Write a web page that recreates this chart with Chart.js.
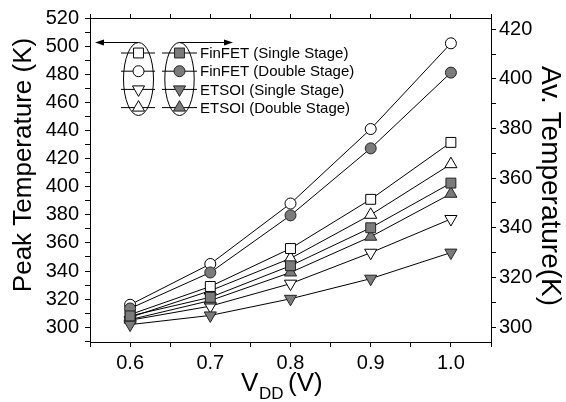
<!DOCTYPE html>
<html>
<head>
<meta charset="utf-8">
<script src="https://cdn.jsdelivr.net/npm/chart.js@4.4.0/dist/chart.umd.min.js"></script>
<style>
body { margin: 0; background: #fff; }
</style>
</head>
<body>
<canvas id="chart" width="566" height="402"></canvas>
<script>
"use strict";

const FONT = "'Liberation Sans', Arial, sans-serif";

const vdd = [0.6, 0.7, 0.8, 0.9, 1.0];

// peak temperature (K), left axis
const finfetSinglePeak = [309, 329, 356, 391, 431.5];
const finfetDoublePeak = [316, 345, 388, 441, 502];
const etsoiSinglePeak = [305, 315, 331, 353, 377];
const etsoiDoublePeak = [307, 326, 349, 380, 416];

// average temperature (K), right axis
const finfetSingleAvg = [304.5, 312, 324.7, 340, 358];
const finfetDoubleAvg = [307.5, 322, 345, 372, 402.5];
const etsoiSingleAvg = [301, 304.7, 311.4, 319.5, 330];
const etsoiDoubleAvg = [303, 310.7, 322, 336.4, 353.7];

const xTicks = [0.55, 0.6, 0.65, 0.7, 0.75, 0.8, 0.85, 0.9, 0.95, 1.0, 1.05];
const peakTicks = [290, 300, 310, 320, 330, 340, 350, 360, 370, 380, 390, 400,
    410, 420, 430, 440, 450, 460, 470, 480, 490, 500, 510, 520];
const avTicks = [300, 310, 320, 330, 340, 350, 360, 370, 380, 390, 400, 410, 420];

const legendLabels = [
    "FinFET (Single Stage)",
    "FinFET (Double Stage)",
    "ETSOI (Single Stage)",
    "ETSOI (Double Stage)"
];

const markerStyles = [
    {pointStyle: "rect", radius: 7, rotation: 0},
    {pointStyle: "circle", radius: 5.5, rotation: 0},
    {pointStyle: "triangle", radius: 7, rotation: 180},
    {pointStyle: "triangle", radius: 7, rotation: 0}
];

const GRAY = "#7b7b7b";

function points(values) {
    return vdd.map((v, i) => ({x: v, y: values[i]}));
}

function series(values, marker, filled) {
    return {
        data: points(values),
        yAxisID: filled ? "y2" : "y",
        borderColor: "#000",
        borderWidth: 1,
        pointStyle: marker.pointStyle,
        pointRadius: marker.radius,
        pointRotation: marker.rotation,
        pointBackgroundColor: filled ? GRAY : "#fff",
        pointBorderColor: filled ? "#222" : "#000",
        pointBorderWidth: 1,
        tension: 0,
        fill: false
    };
}

function fixTicks(list) {
    return scale => {
        scale.ticks = list.map(v => ({value: v}));
    };
}

const annotations = {
    id: "annotations",
    afterDraw(chart) {
        const ctx = chart.ctx;
        ctx.save();
        ctx.fillStyle = "#000";
        ctx.strokeStyle = "#000";
        ctx.lineWidth = 1;

        // axis titles
        ctx.font = "26px " + FONT;
        ctx.textAlign = "center";
        ctx.textBaseline = "alphabetic";
        ctx.save();
        ctx.translate(31, 165);
        ctx.rotate(-Math.PI / 2);
        ctx.fillText("Peak Temperature (K)", 0, 0);
        ctx.restore();

        ctx.font = "28px " + FONT;
        ctx.save();
        ctx.translate(542, 186);
        ctx.rotate(Math.PI / 2);
        ctx.fillText("Av. Temperature(K)", 0, 0);
        ctx.restore();

        ctx.textAlign = "left";
        ctx.font = "26px " + FONT;
        ctx.fillText("V", 241, 391);
        ctx.font = "17px " + FONT;
        ctx.fillText("DD", 259, 399);
        ctx.font = "26px " + FONT;
        ctx.fillText("(V)", 288, 391);

        // legend: ellipses and arrows
        ctx.beginPath();
        ctx.ellipse(138.5, 79, 15, 36.5, 0, 0, Math.PI * 2);
        ctx.stroke();
        ctx.beginPath();
        ctx.ellipse(179.5, 79, 14.7, 36.5, 0, 0, Math.PI * 2);
        ctx.stroke();

        ctx.beginPath();
        ctx.moveTo(138.5, 42.5);
        ctx.lineTo(98, 42.5);
        ctx.moveTo(179.5, 42.5);
        ctx.lineTo(230, 42.5);
        ctx.stroke();
        ctx.beginPath();
        ctx.moveTo(95, 42.5);
        ctx.lineTo(104, 39.5);
        ctx.lineTo(104, 45.5);
        ctx.closePath();
        ctx.moveTo(233, 42.5);
        ctx.lineTo(224, 39.5);
        ctx.lineTo(224, 45.5);
        ctx.closePath();
        ctx.fill();

        ctx.font = "15px " + FONT;
        ctx.textBaseline = "middle";
        legendLabels.forEach((label, i) => {
            const y = 53 + i * 18.2;
            ctx.beginPath();
            ctx.moveTo(121, y);
            ctx.lineTo(155, y);
            ctx.moveTo(162, y);
            ctx.lineTo(197, y);
            ctx.stroke();
            const m = Object.assign({borderWidth: 1}, markerStyles[i]);
            ctx.fillStyle = "#fff";
            ctx.strokeStyle = "#000";
            Chart.helpers.drawPoint(ctx, m, 138.5, y);
            ctx.fillStyle = GRAY;
            ctx.strokeStyle = "#222";
            Chart.helpers.drawPoint(ctx, m, 179.5, y);
            ctx.fillStyle = "#000";
            ctx.strokeStyle = "#000";
            ctx.fillText(label, 200, y + 1);
        });
        ctx.restore();
    }
};

const tickFont = {family: FONT, size: 20};

new Chart(document.querySelector("#chart").getContext("2d"), { //NOSONAR
    type: "line",
    data: {
        datasets: [
            series(finfetSingleAvg, markerStyles[0], true),
            series(finfetDoubleAvg, markerStyles[1], true),
            series(etsoiSingleAvg, markerStyles[2], true),
            series(etsoiDoubleAvg, markerStyles[3], true),
            series(finfetSinglePeak, markerStyles[0], false),
            series(finfetDoublePeak, markerStyles[1], false),
            series(etsoiSinglePeak, markerStyles[2], false),
            series(etsoiDoublePeak, markerStyles[3], false)
        ]
    },
    options: {
        responsive: false,
        animation: false,
        devicePixelRatio: 1,
        layout: {padding: 0},
        plugins: {
            legend: {display: false},
            tooltip: {enabled: false}
        },
        scales: {
            x: {
                type: "linear",
                position: "bottom",
                min: 0.55,
                max: 1.05,
                afterBuildTicks: fixTicks(xTicks),
                afterFit: scale => { scale.height = 60; },
                grid: {drawOnChartArea: false, tickLength: 5, color: "#000"},
                border: {display: true, color: "#000"},
                ticks: {
                    autoSkip: false,
                    maxRotation: 0,
                    padding: 4,
                    color: "#000",
                    font: tickFont,
                    callback: v => {
                        const k = Math.round(v * 100);
                        return k % 10 === 0 ? (k / 100).toFixed(1) : "";
                    }
                }
            },
            x2: {
                type: "linear",
                position: "top",
                min: 0.55,
                max: 1.05,
                afterBuildTicks: fixTicks(xTicks),
                afterFit: scale => { scale.height = 16; },
                grid: {drawOnChartArea: false, tickLength: 4, color: "#000"},
                border: {display: true, color: "#000"},
                ticks: {display: false}
            },
            y: {
                type: "linear",
                position: "left",
                min: 289.5,
                max: 520,
                afterBuildTicks: fixTicks(peakTicks),
                afterFit: scale => { scale.width = 90; },
                grid: {drawOnChartArea: false, tickLength: 5, color: "#000"},
                border: {display: true, color: "#000"},
                ticks: {
                    autoSkip: false,
                    padding: 6,
                    color: "#000",
                    font: tickFont,
                    callback: v => (v % 20 === 0 ? String(v) : "")
                }
            },
            y2: {
                type: "linear",
                position: "right",
                min: 294,
                max: 424.5,
                afterBuildTicks: fixTicks(avTicks),
                afterFit: scale => { scale.width = 75; },
                grid: {drawOnChartArea: false, tickLength: 5, color: "#000"},
                border: {display: true, color: "#000"},
                ticks: {
                    autoSkip: false,
                    padding: 3,
                    color: "#000",
                    font: tickFont,
                    callback: v => (v % 20 === 0 ? String(v) : "")
                }
            }
        }
    },
    plugins: [annotations]
});
</script>
</body>
</html>
